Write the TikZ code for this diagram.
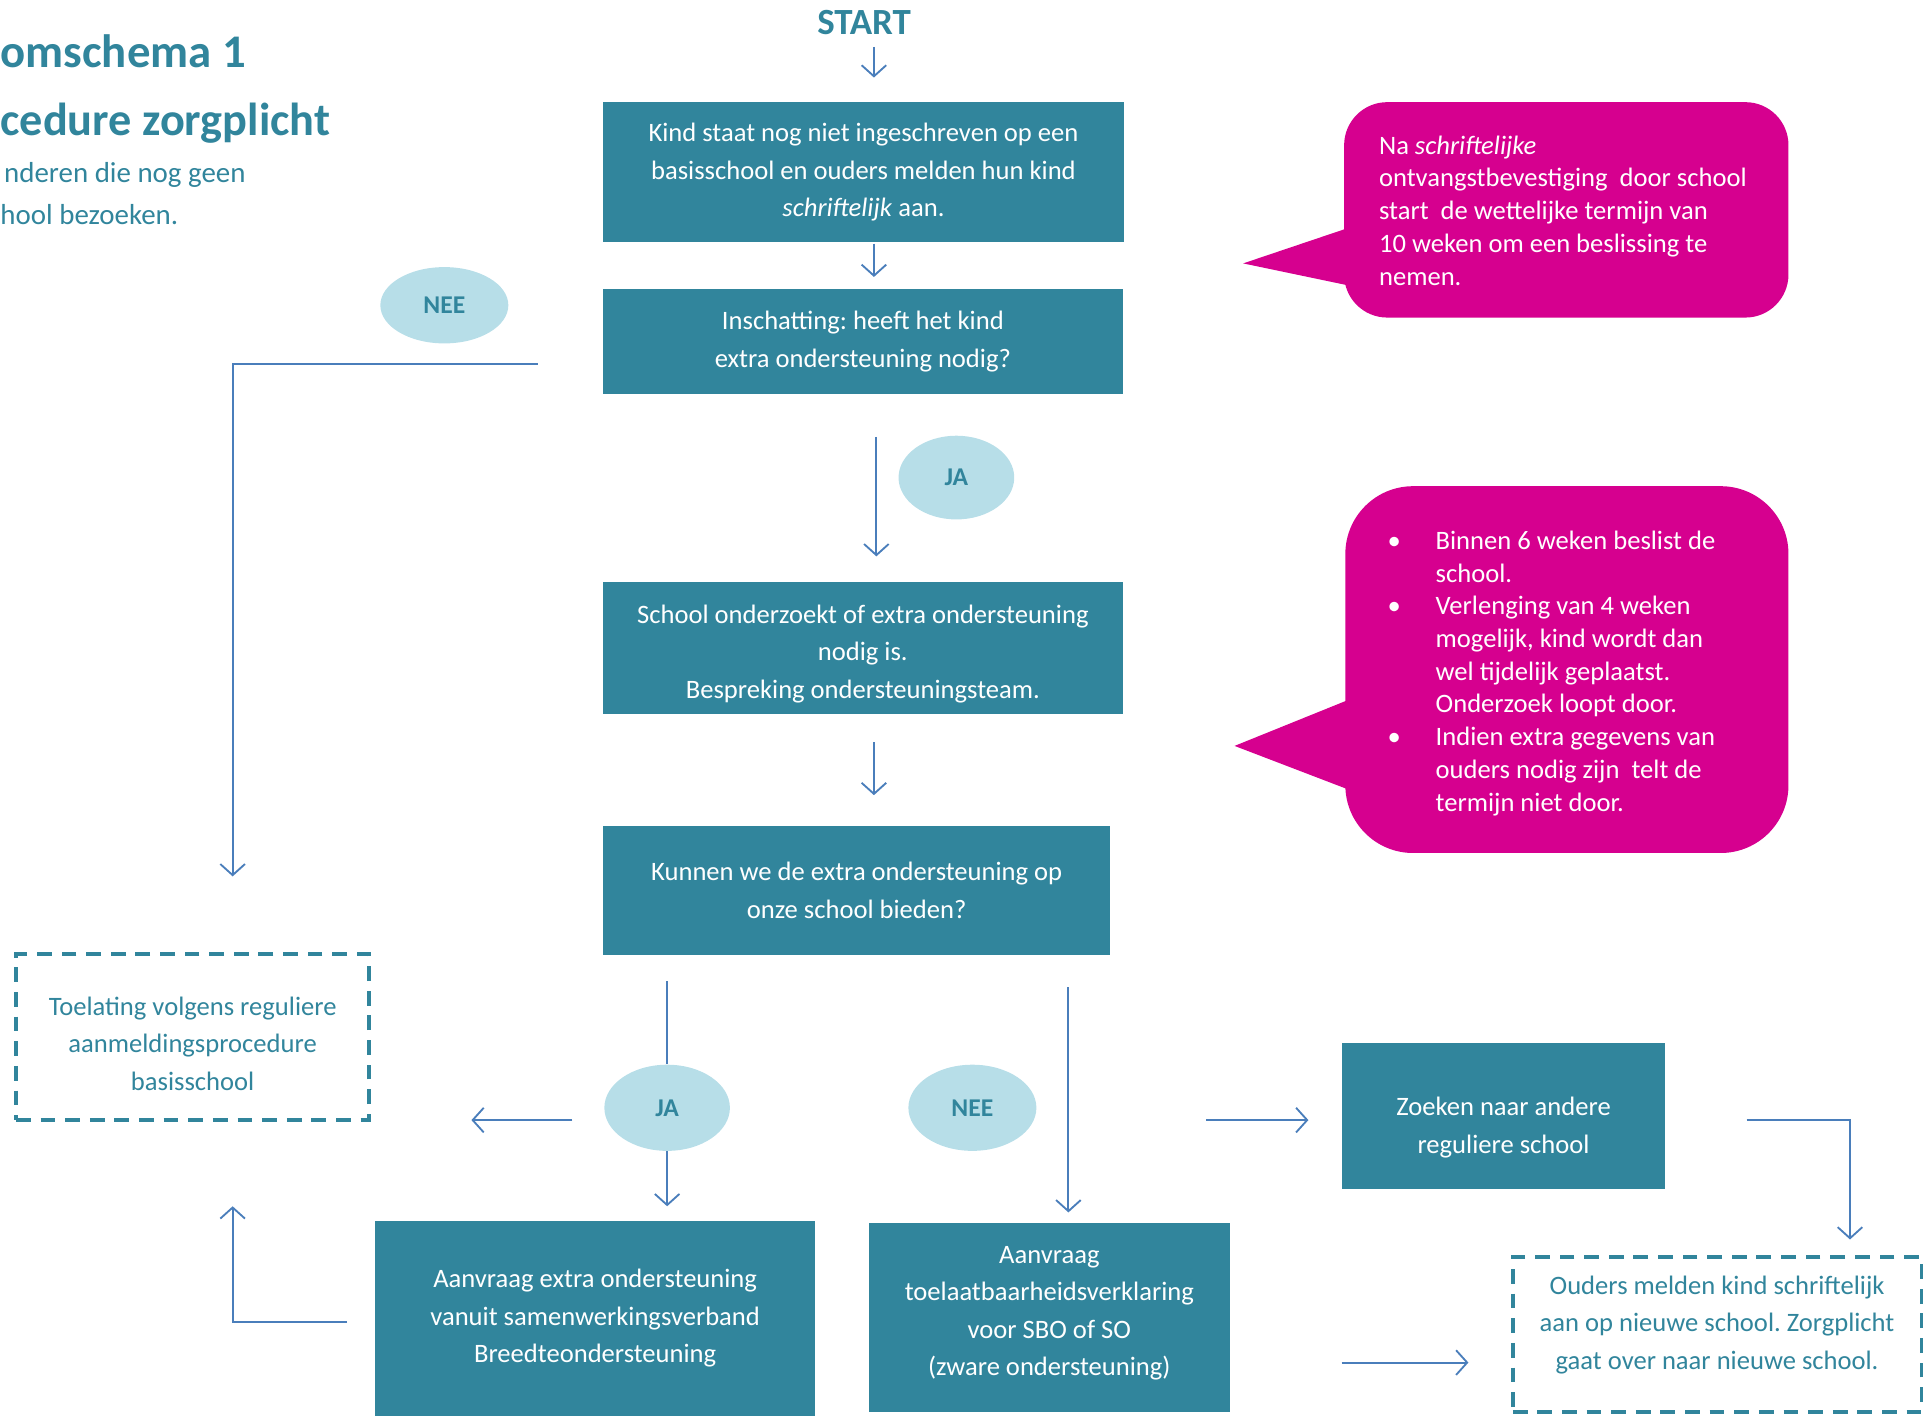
\documentclass[tikz,border=0pt]{standalone}
\usepackage{fontspec}
\setmainfont{Carlito}
\frenchspacing
\usetikzlibrary{arrows.meta,shapes.geometric}
\definecolor{zpteal}{RGB}{49,133,156}
\definecolor{zpblue}{RGB}{74,126,187}
\definecolor{zppink}{RGB}{214,0,143}
\definecolor{zplight}{RGB}{183,222,232}
\newcommand{\bul}{\makebox[19.5pt][l]{\textbullet}}
\newcommand{\ind}{\hspace*{19.5pt}}
\tikzset{
  box/.style={fill=zpteal, text=white, align=center, inner sep=0pt,
    font=\fontsize{10.8}{15.25}\selectfont},
  dashbox/.style={draw=zpteal, line width=1.5pt, dash pattern=on 6pt off 4pt,
    text=zpteal, align=center, inner sep=0pt, font=\fontsize{10.8}{15.25}\selectfont},
  answer/.style={ellipse, fill=zplight, text=zpteal, inner sep=0pt,
    font=\bfseries\fontsize{10.4}{12}\selectfont},
  balloon/.style={fill=zppink, inner sep=0pt},
  balloontext/.style={text=white, align=left, anchor=west, inner sep=0pt,
    font=\fontsize{10.8}{13.3}\selectfont},
  line/.style={draw=zpblue, line width=0.75pt},
  arr/.style={line, -{Straight Barb[length=4.5pt,width=10pt]}},
  title/.style={anchor=base west, inner sep=0pt, text=zpteal}
}
\begin{document}
\begin{tikzpicture}[x=0.5pt, y=-0.5pt]
  \useasboundingbox (0,0) rectangle (1568,1150);

  % titel links
  \node[title, font=\bfseries\fontsize{19}{23}\selectfont] (t1) at (0,55) {omschema 1};
  \node[title, font=\bfseries\fontsize{18.8}{23}\selectfont] (t2) at (0,110) {cedure zorgplicht};
  \node[title, font=\fontsize{11.75}{14}\selectfont] (t3) at (3,148) {nderen die nog geen};
  \node[title, font=\fontsize{11.75}{14}\selectfont] (t4) at (0,182) {hool bezoeken.};
  \node[title, anchor=base, font=\bfseries\fontsize{15}{18}\selectfont] (start) at (702,28) {START};

  % stappen
  \node[box, minimum width=211.5pt, minimum height=57pt] (aanmelden) at (701.5,140)
    {Kind staat nog niet ingeschreven op een\\basisschool en ouders melden hun kind\\\textit{schriftelijk} aan.};
  \node[box, minimum width=211pt, minimum height=42.5pt] (inschatting) at (701,277.5)
    {Inschatting: heeft het kind\\extra ondersteuning nodig?};
  \node[box, minimum width=211pt, minimum height=53.5pt] (onderzoek) at (701,526.5)
    {\rule{0pt}{12pt}School onderzoekt of extra ondersteuning\\nodig is.\\Bespreking ondersteuningsteam.};
  \node[box, minimum width=206pt, minimum height=52.5pt] (bieden) at (696,723.5)
    {Kunnen we de extra ondersteuning op\\onze school bieden?};
  \node[box, minimum width=178.5pt, minimum height=79pt] (breedte) at (483.5,1071)
    {Aanvraag extra ondersteuning\\vanuit samenwerkingsverband\\Breedteondersteuning};
  \node[box, minimum width=146.5pt, minimum height=76.5pt] (tlv) at (852.5,1070.5)
    {Aanvraag\\toelaatbaarheidsverklaring\\voor SBO of SO\\(zware ondersteuning)\rule[-5.5pt]{0pt}{0pt}};
  \node[box, minimum width=131.5pt, minimum height=59.5pt] (zoeken) at (1221.5,906.5)
    {\rule{0pt}{17pt}Zoeken naar andere\\reguliere school};
  \node[dashbox, minimum width=143.5pt, minimum height=67.5pt] (toelating) at (156.5,842.5)
    {\rule{0pt}{13pt}Toelating volgens reguliere\\aanmeldingsprocedure\\basisschool};
  \node[dashbox, minimum width=166pt, minimum height=63pt] (nieuw) at (1395,1084)
    {Ouders melden kind schriftelijk\\aan op nieuwe school. Zorgplicht\\gaat over naar nieuwe school.\rule[-9.5pt]{0pt}{0pt}};

  % ja / nee
  \node[answer, minimum width=52pt, minimum height=31pt] (nee1) at (361,248) {NEE};
  \node[answer, minimum width=47pt, minimum height=34pt] (ja1) at (777,388) {JA};
  \node[answer, minimum width=51pt, minimum height=35pt] (ja2) at (542,900) {JA};
  \node[answer, minimum width=52pt, minimum height=35pt] (nee2) at (790,900) {NEE};

  % ballonnen
  \node[balloon, rounded corners=17.5pt, minimum width=180.5pt, minimum height=87.5pt] (wet) at (1272.5,170.5) {};
  \fill[zppink] (1010,214) -- (1096,185) -- (1096,232) -- cycle;
  \node[balloontext] (wettekst) at (1120,171)
    {Na \textit{schriftelijke}\\ontvangstbevestiging\ \ door school\\start\ \ de wettelijke termijn van\\10 weken om een beslissing te\\nemen.};
  \node[balloon, rounded corners=27.5pt, minimum width=180pt, minimum height=149pt] (termijn) at (1273,544) {};
  \fill[zppink] (1003,606) -- (1097,568) -- (1097,642) -- cycle;
  \node[balloontext] (termijntekst) at (1127,547)
    {\bul Binnen 6 weken beslist de\\\ind school.\\\bul Verlenging van 4 weken\\\ind mogelijk, kind wordt dan\\\ind wel tijdelijk geplaatst.\\\ind Onderzoek loopt door.\\\bul Indien extra gegevens van\\\ind ouders nodig zijn\ \ telt de\\\ind termijn niet door.};

  % pijlen
  \coordinate (a1) at (710,38);   \coordinate (a2) at (710,63);
  \coordinate (b1) at (710,198);  \coordinate (b2) at (710,225);
  \coordinate (c1) at (437,296);  \coordinate (c2) at (189,712);
  \coordinate (d1) at (712,355);  \coordinate (d2) at (712,452);
  \coordinate (e1) at (710,603);  \coordinate (e2) at (710,646);
  \coordinate (f1) at (542,797);  \coordinate (g2) at (542,980);
  \coordinate (h1) at (465,910);  \coordinate (h2) at (383,910);
  \coordinate (i1) at (868,802);  \coordinate (i2) at (868,985);
  \coordinate (j1) at (980,910);  \coordinate (j2) at (1063,910);
  \coordinate (k1) at (1419,910); \coordinate (k2) at (1503,1007);
  \coordinate (l1) at (282,1074); \coordinate (l2) at (189,980);
  \coordinate (m1) at (1090,1107); \coordinate (m2) at (1193,1107);

  \draw[arr] (a1) -- (a2);
  \draw[arr] (b1) -- (b2);
  \draw[arr] (c1) -| (c2);
  \draw[arr] (d1) -- (d2);
  \draw[arr] (e1) -- (e2);
  \draw[line] (f1) -- (ja2);
  \draw[arr] (ja2) -- (g2);
  \draw[arr] (h1) -- (h2);
  \draw[arr] (i1) -- (i2);
  \draw[arr] (j1) -- (j2);
  \draw[arr] (k1) -| (k2);
  \draw[arr] (l1) -| (l2);
  \draw[arr] (m1) -- (m2);
\end{tikzpicture}
\end{document}
